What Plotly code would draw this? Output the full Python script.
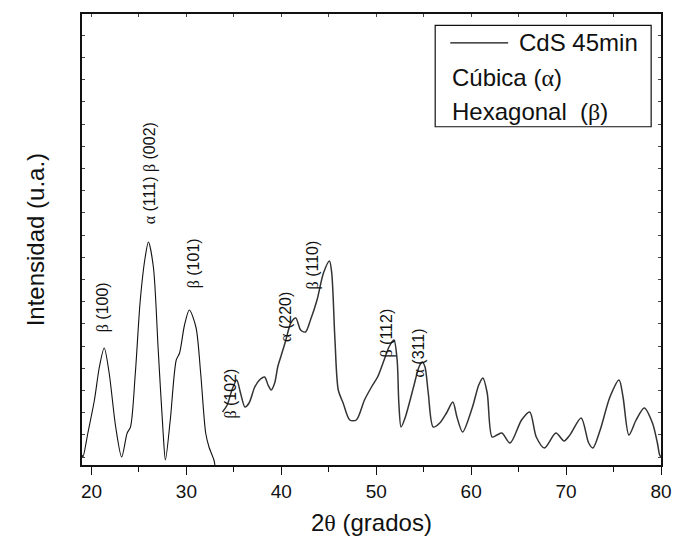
import plotly.graph_objects as go

# XRD pattern of CdS film (45 min deposition), 2-theta in degrees, intensity in arbitrary units
two_theta_a = [19.0, 19.1, 19.62, 20.31, 20.83, 21.34, 21.86, 22.55, 23.18, 23.76, 24.11,
               24.62, 25.14, 25.66, 26.0, 26.52, 27.03, 27.55, 27.79, 28.3, 28.93, 29.28,
               29.8, 30.31, 31.0, 31.5, 32.03, 32.38, 32.9, 33.0]
intensity_a = [10, 8, 32, 65, 98, 117, 92, 38, 8, 32, 38,
               92, 165, 208, 223, 198, 115, 32, 5, 45, 105, 112,
               140, 155, 138, 92, 32, 18, 5, 0]

two_theta_b = [33.8, 34.3, 34.8, 35.3, 35.7, 36.17, 36.6, 37.2, 37.7, 38.24, 38.6, 38.93,
               39.3, 39.62, 40.0, 40.48, 41.0, 41.52, 42.03, 42.55, 43.07, 43.76, 44.44,
               45.07, 45.31, 45.65, 46.0, 46.51, 47.21, 47.9, 48.76, 49.5, 50.14, 50.83,
               51.34, 51.86, 52.2, 52.38, 52.62, 53.07, 53.93, 54.5, 54.85, 55.14, 55.48,
               56.0, 56.69, 57.4, 58.07, 58.5, 59.1, 60.14, 60.8, 61.24, 61.69, 62.2,
               62.72, 63.24, 64.1, 65.31, 66.17, 66.86, 67.72, 68.93, 69.79, 70.4, 71.59,
               72.38, 72.83, 73.59, 74.62, 75.58, 76.0, 76.62, 77.38, 78.24, 79.1, 79.62,
               79.86, 80.0]
intensity_b = [53, 60, 75, 85, 72, 58, 62, 78, 85, 88, 80, 75,
               82, 98, 110, 125, 142, 147, 135, 133, 145, 165, 192,
               204, 192, 125, 75, 62, 45, 45, 65, 78, 88, 105,
               118, 125, 105, 62, 38, 48, 78, 98, 103, 98, 72,
               38, 42, 52, 63, 48, 33, 58, 80, 87, 72, 28,
               30, 32, 22, 45, 53, 28, 17, 32, 24, 30, 47,
               22, 17, 35, 68, 85, 68, 30, 45, 57, 42, 22,
               10, 8]

# Reflection labels: text, 2-theta position, height
peak_labels = ["β (100)", "α (111) β (002)", "β (101)", "β (102)",
               "α (220)", "β (110)", "β (112)", "α (311)"]
peak_x = [21.24, 26.2, 30.83, 34.65, 40.38, 43.38, 51.08, 54.45]
peak_y = [158, 292, 202, 71, 148, 200, 132, 112]

x_ticks = [20, 30, 40, 50, 60, 70, 80]

FONT = "Liberation Sans, Arial, sans-serif"
GREEK = "Liberation Serif, Times New Roman, serif"
INK = "#111111"


def greek(s):
    for ch in "αβθ":
        s = s.replace(ch, f'<span style="font-family:{GREEK}">{ch}</span>')
    return s


fig = go.Figure()
fig.add_trace(go.Scatter(x=two_theta_a, y=intensity_a, mode="lines",
                         line=dict(color=INK, width=1.1, shape="spline", smoothing=0.8),
                         showlegend=False, hoverinfo="skip"))
fig.add_trace(go.Scatter(x=two_theta_b, y=intensity_b, mode="lines",
                         line=dict(color="#333333", width=1.5, shape="spline", smoothing=0.8),
                         showlegend=False, hoverinfo="skip"))
# carrier trace for the top tick axis
fig.add_trace(go.Scatter(x=[19, 80], y=[None, None], xaxis="x2", mode="lines",
                         showlegend=False, hoverinfo="skip"))

annotations = []
for txt, px, py in zip(peak_labels, peak_x, peak_y):
    annotations.append(dict(x=px, y=py, xref="x", yref="y", text=greek(txt),
                            textangle=-90, showarrow=False,
                            xanchor="center", yanchor="middle",
                            font=dict(family=FONT, size=16, color=INK)))

# axis titles
annotations.append(dict(x=0.5, y=-0.1264, xref="paper", yref="paper",
                        xanchor="center", yanchor="middle",
                        text=greek("2θ (grados)"), showarrow=False,
                        font=dict(family=FONT, size=24, color=INK)))
annotations.append(dict(x=-0.0797, y=0.5, xref="paper", yref="paper",
                        xanchor="center", yanchor="middle",
                        text="Intensidad (u.a.)", textangle=-90, showarrow=False,
                        font=dict(family=FONT, size=24, color=INK)))

# legend box contents
annotations.append(dict(x=0.963, y=0.936, xref="paper", yref="paper",
                        xanchor="right", yanchor="middle",
                        text="CdS 45min", showarrow=False,
                        font=dict(family=FONT, size=24, color=INK)))
annotations.append(dict(x=0.636, y=0.859, xref="paper", yref="paper",
                        xanchor="left", yanchor="middle",
                        text=greek("Cúbica (α)"), showarrow=False,
                        font=dict(family=FONT, size=24, color=INK)))
annotations.append(dict(x=0.636, y=0.784, xref="paper", yref="paper",
                        xanchor="left", yanchor="middle",
                        text=greek("Hexagonal  (β)"), showarrow=False,
                        font=dict(family=FONT, size=24, color=INK)))

shapes = [
    dict(type="rect", xref="paper", yref="paper", x0=0.610, x1=0.983, y0=0.750, y1=0.975,
         line=dict(color=INK, width=1.2), fillcolor="white", layer="below"),
    dict(type="line", xref="paper", yref="paper", x0=0.636, x1=0.736, y0=0.936, y1=0.936,
         line=dict(color=INK, width=1.2)),
]

fig.update_layout(
    width=684, height=542,
    margin=dict(l=82, r=12, t=14, b=77),
    paper_bgcolor="white", plot_bgcolor="white",
    font=dict(family=FONT, color=INK),
    xaxis=dict(range=[19, 80], tickvals=x_ticks, ticks="outside", ticklen=8, tickwidth=1.3,
               tickcolor=INK, showline=True, linewidth=2, linecolor=INK,
               mirror=True, showgrid=False, zeroline=False,
               tickfont=dict(family=FONT, size=19, color=INK),
               minor=dict(dtick=5, tick0=20, ticks="outside", ticklen=5, tickwidth=1.3,
                          tickcolor=INK)),
    xaxis2=dict(range=[19, 80], overlaying="x", side="top", anchor="y", tick0=20, dtick=5,
                ticks="inside", ticklen=3, tickcolor="#444444", showticklabels=False,
                showgrid=False, zeroline=False, showline=False),
    yaxis=dict(range=[0, 451], tick0=8, dtick=22.2, ticks="inside", ticklen=3,
               tickcolor="#444444", showticklabels=False, showline=True, linewidth=2,
               linecolor=INK, mirror="ticks", showgrid=False, zeroline=False),
    annotations=annotations,
    shapes=shapes,
)

fig.write_html("out.html")
